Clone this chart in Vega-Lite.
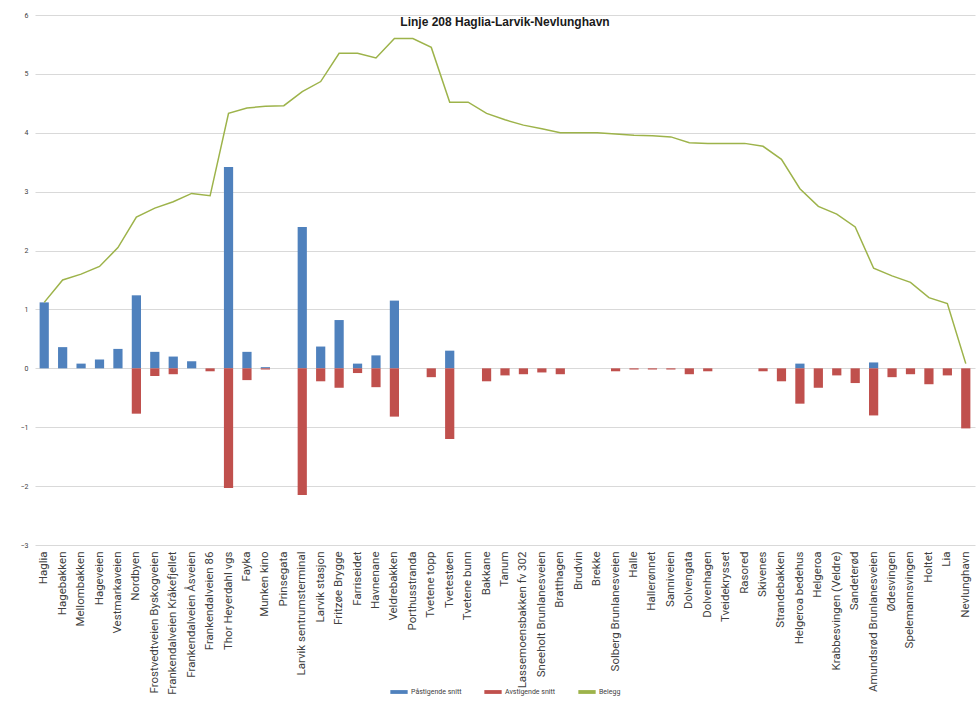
{
  "$schema": "https://vega.github.io/schema/vega-lite/v6.json",
  "autosize": {"type": "none"},
  "width": 940,
  "height": 530,
  "padding": {"left": 35, "top": 15, "right": 2, "bottom": 161},
  "background": "white",
  "title": {
    "text": "Linje 208 Haglia-Larvik-Nevlunghavn",
    "font": "Liberation Sans",
    "fontSize": 12,
    "fontWeight": "bold",
    "color": "#1a1a1a",
    "anchor": "middle",
    "offset": -18
  },
  "data": {
    "values": [
      {"stopp": "Haglia", "pa": 1.12, "av": 0, "belegg": 1.12},
      {"stopp": "Hagebakken", "pa": 0.36, "av": 0, "belegg": 1.5},
      {"stopp": "Mellombakken", "pa": 0.08, "av": 0, "belegg": 1.6},
      {"stopp": "Hageveien", "pa": 0.15, "av": 0, "belegg": 1.73},
      {"stopp": "Vestmarkaveien", "pa": 0.33, "av": 0, "belegg": 2.05},
      {"stopp": "Nordbyen", "pa": 1.24, "av": -0.77, "belegg": 2.57},
      {"stopp": "Frostvedtveien Byskogveien", "pa": 0.28, "av": -0.13, "belegg": 2.72},
      {"stopp": "Frankendalveien Kråkefjellet", "pa": 0.2, "av": -0.1, "belegg": 2.83},
      {"stopp": "Frankendalveien Åsveien", "pa": 0.12, "av": 0, "belegg": 2.97},
      {"stopp": "Frankendalveien 86", "pa": 0, "av": -0.05, "belegg": 2.93},
      {"stopp": "Thor Heyerdahl vgs", "pa": 3.42, "av": -2.03, "belegg": 4.33},
      {"stopp": "Fayka", "pa": 0.28, "av": -0.2, "belegg": 4.42},
      {"stopp": "Munken kino", "pa": 0.02, "av": -0.02, "belegg": 4.45},
      {"stopp": "Prinsegata", "pa": 0, "av": 0, "belegg": 4.46},
      {"stopp": "Larvik sentrumsterminal", "pa": 2.4, "av": -2.15, "belegg": 4.7},
      {"stopp": "Larvik stasjon", "pa": 0.37, "av": -0.22, "belegg": 4.87},
      {"stopp": "Fritzøe Brygge", "pa": 0.82, "av": -0.33, "belegg": 5.35},
      {"stopp": "Farriseidet", "pa": 0.08, "av": -0.08, "belegg": 5.35},
      {"stopp": "Havnenane", "pa": 0.22, "av": -0.32, "belegg": 5.27},
      {"stopp": "Veldrebakken", "pa": 1.15, "av": -0.82, "belegg": 5.6},
      {"stopp": "Porthusstranda", "pa": 0, "av": 0, "belegg": 5.6},
      {"stopp": "Tvetene topp", "pa": 0, "av": -0.15, "belegg": 5.45},
      {"stopp": "Tvetestøen", "pa": 0.3, "av": -1.2, "belegg": 4.52},
      {"stopp": "Tvetene bunn", "pa": 0, "av": 0, "belegg": 4.52},
      {"stopp": "Bakkane", "pa": 0, "av": -0.22, "belegg": 4.33},
      {"stopp": "Tanum", "pa": 0, "av": -0.12, "belegg": 4.22},
      {"stopp": "Lassemoensbakken fv 302", "pa": 0, "av": -0.1, "belegg": 4.13},
      {"stopp": "Sneeholt Brunlanesveien", "pa": 0, "av": -0.07, "belegg": 4.07},
      {"stopp": "Bratthagen", "pa": 0, "av": -0.1, "belegg": 4.0},
      {"stopp": "Brudvin", "pa": 0, "av": 0, "belegg": 4.0},
      {"stopp": "Brekke", "pa": 0, "av": 0, "belegg": 4.0},
      {"stopp": "Solberg Brunlanesveien", "pa": 0, "av": -0.05, "belegg": 3.98},
      {"stopp": "Halle", "pa": 0, "av": -0.02, "belegg": 3.96},
      {"stopp": "Hallerønnet", "pa": 0, "av": -0.02, "belegg": 3.95},
      {"stopp": "Sanniveien", "pa": 0, "av": -0.02, "belegg": 3.93},
      {"stopp": "Dolvengata", "pa": 0, "av": -0.1, "belegg": 3.83},
      {"stopp": "Dolvenhagen", "pa": 0, "av": -0.05, "belegg": 3.82},
      {"stopp": "Tveidekrysset", "pa": 0, "av": 0, "belegg": 3.82},
      {"stopp": "Rasored", "pa": 0, "av": 0, "belegg": 3.82},
      {"stopp": "Skivenes", "pa": 0, "av": -0.05, "belegg": 3.77},
      {"stopp": "Strandebakken", "pa": 0, "av": -0.22, "belegg": 3.55},
      {"stopp": "Helgeroa bedehus", "pa": 0.08, "av": -0.6, "belegg": 3.05},
      {"stopp": "Helgeroa", "pa": 0, "av": -0.33, "belegg": 2.75},
      {"stopp": "Krabbesvingen (Veldre)", "pa": 0, "av": -0.12, "belegg": 2.62},
      {"stopp": "Sandeterød", "pa": 0, "av": -0.25, "belegg": 2.4},
      {"stopp": "Amundsrød Brunlanesveien", "pa": 0.1, "av": -0.8, "belegg": 1.7},
      {"stopp": "Ødesvingen", "pa": 0, "av": -0.15, "belegg": 1.57},
      {"stopp": "Spelemannsvingen", "pa": 0, "av": -0.1, "belegg": 1.46},
      {"stopp": "Holtet", "pa": 0, "av": -0.27, "belegg": 1.2},
      {"stopp": "Lia", "pa": 0, "av": -0.12, "belegg": 1.1},
      {"stopp": "Nevlunghavn", "pa": 0, "av": -1.02, "belegg": 0.08}
    ]
  },
  "encoding": {
    "x": {
      "field": "stopp",
      "type": "nominal",
      "sort": null,
      "title": null,
      "scale": {"paddingInner": 0.5, "paddingOuter": 0.25},
      "axis": {
        "labelAngle": -90,
        "labelFont": "Roboto",
        "labelFontSize": 11.5,
        "labelColor": "#404040",
        "labelPadding": 6,
        "ticks": false,
        "domain": false,
        "grid": false,
        "labelOverlap": false,
        "labelLimit": 200
      }
    }
  },
  "layer": [
    {
      "mark": {"type": "bar"},
      "encoding": {
        "y": {
          "field": "pa",
          "type": "quantitative",
          "title": null,
          "scale": {"domain": [-3, 6], "nice": false, "zero": false},
          "axis": {
            "values": [-3, -2, -1, 0, 1, 2, 3, 4, 5, 6],
            "format": "d",
            "labelFont": "Roboto",
            "labelFontSize": 7,
            "labelColor": "#404040",
            "labelPadding": 7,
            "ticks": false,
            "domain": false,
            "gridColor": "#d9d9d9",
            "gridWidth": 1
          }
        },
        "color": {"datum": "Påstigende snitt"}
      }
    },
    {
      "mark": {"type": "bar"},
      "encoding": {
        "y": {"field": "av", "type": "quantitative"},
        "color": {"datum": "Avstigende snitt"}
      }
    },
    {
      "mark": {"type": "line", "strokeWidth": 1.5},
      "encoding": {
        "y": {"field": "belegg", "type": "quantitative"},
        "color": {"datum": "Belegg"}
      }
    }
  ],
  "resolve": {"scale": {"color": "shared"}},
  "config": {
    "view": {"stroke": null},
    "range": {"category": ["#4F81BD", "#C0504D", "#9DB34A"]},
    "legend": {
      "orient": "none",
      "legendX": 355,
      "legendY": 668,
      "direction": "horizontal",
      "title": null,
      "labelFont": "Roboto",
      "labelFontSize": 7,
      "labelColor": "#404040",
      "symbolType": "M-1,-0.22H1V0.22H-1Z",
      "symbolSize": 300,
      "symbolStrokeWidth": 0,
      "columnPadding": 22,
      "labelOffset": 3
    }
  }
}
